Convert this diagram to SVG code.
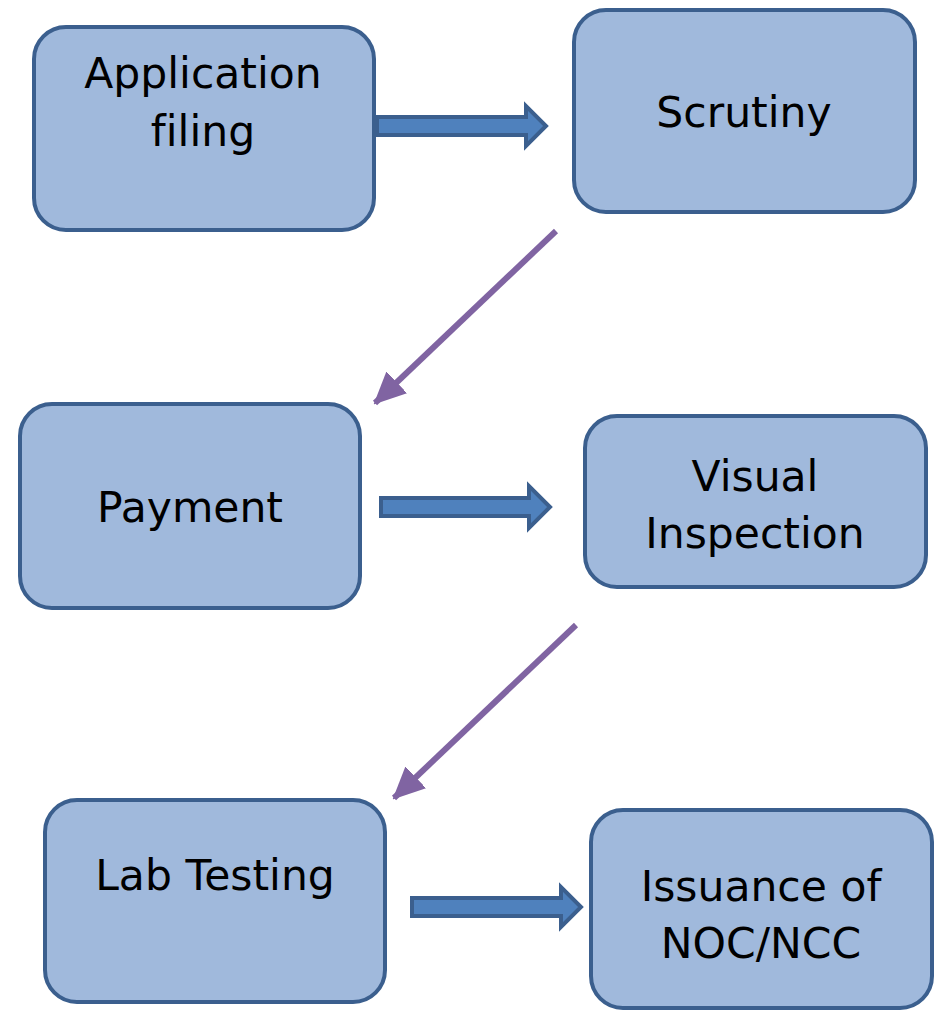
<svg xmlns="http://www.w3.org/2000/svg" width="935" height="1011" viewBox="0 0 935 1011">
<defs>
<style>
.box{fill:#a0b9dc;stroke:#3b5f8e;stroke-width:4}
.lbl{font-family:"DejaVu Sans",Verdana,sans-serif;font-size:42.5px;fill:#000;text-anchor:middle;font-variant-ligatures:none}
.blk{fill:#4f81bd;stroke:#3b5f8e;stroke-width:4;stroke-linejoin:miter}
.diag{stroke:#8064a2;stroke-width:6;fill:none}
</style>
<marker id="ph" markerUnits="userSpaceOnUse" markerWidth="32" markerHeight="30" refX="30" refY="15" orient="auto" viewBox="0 0 32 30">
<path d="M0,0 L32,15 L0,30 Z" fill="#8064a2"/>
</marker>
</defs>
<g id="n1"><rect class="box" x="34" y="27" width="340" height="203" rx="32"/><text class="lbl" x="203" y="88">Application</text><text class="lbl" x="203" y="146">filing</text></g>
<g id="n2"><rect class="box" x="574" y="10" width="341" height="202" rx="32"/><text class="lbl" x="744" y="127">Scrutiny</text></g>
<g id="n3"><rect class="box" x="20" y="404" width="340" height="204" rx="32"/><text class="lbl" x="190" y="522">Payment</text></g>
<g id="n4"><rect class="box" x="585" y="416" width="341" height="171" rx="32"/><text class="lbl" x="755" y="491">Visual</text><text class="lbl" x="755" y="548">Inspection</text></g>
<g id="n5"><rect class="box" x="45" y="800" width="340" height="202" rx="32"/><text class="lbl" x="215" y="890">Lab Testing</text></g>
<g id="n6"><rect class="box" x="591" y="810" width="341" height="198" rx="32"/><text class="lbl" x="761" y="901">Issuance of</text><text class="lbl" x="761" y="958">NOC/NCC</text></g>
<g id="connectors">
<path class="blk" d="M377,117 H526 V106 L546,126 L526,146 V135 H377 Z"/>
<path class="blk" d="M381,498 H529 V486 L550,507 L529,528 V516 H381 Z"/>
<path class="blk" d="M412,898 H561 V887 L581,907 L561,927 V916 H412 Z"/>
<line class="diag" x1="556" y1="231" x2="375" y2="403" marker-end="url(#ph)"/>
<line class="diag" x1="576" y1="625" x2="394" y2="798" marker-end="url(#ph)"/>
</g>
</svg>
